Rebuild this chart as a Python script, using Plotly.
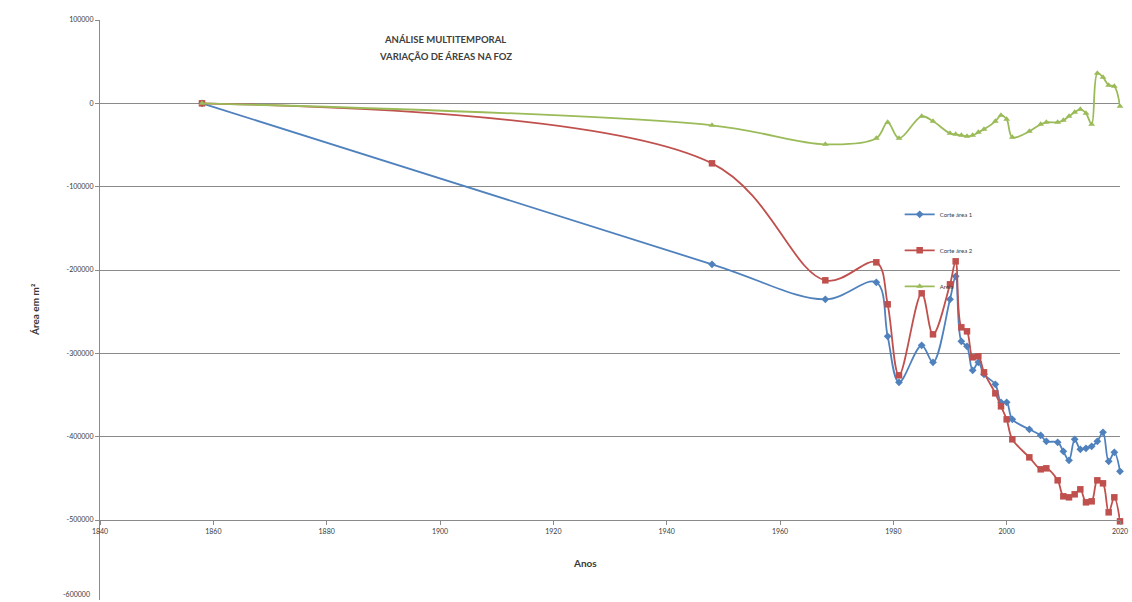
import plotly.graph_objects as go

# Anos das observações (carta histórica, fotos aéreas e imagens de satélite)
anos = [1858, 1948, 1968, 1977, 1979, 1981, 1985, 1987, 1990, 1991, 1992, 1993,
        1994, 1995, 1996, 1998, 1999, 2000, 2001, 2004, 2006, 2007, 2009, 2010,
        2011, 2012, 2013, 2014, 2015, 2016, 2017, 2018, 2019, 2020]

# Variação de área (m²) em relação à primeira observação
corte_area_1 = [0, -193200, -235200, -214800, -279600, -334800, -290400, -310800,
                -235200, -207600, -285600, -291600, -320400, -310800, -325200,
                -337200, -358800, -358800, -379200, -391200, -398400, -405600,
                -406800, -417600, -428400, -403200, -415200, -414000, -411600,
                -405600, -394800, -429600, -418800, -441600]
corte_area_2 = [0, -72000, -212400, -190800, -241200, -326400, -228000, -277200,
                -217200, -189600, -268800, -273600, -304800, -303600, -322800,
                -348000, -363600, -379200, -403200, -424800, -439200, -438000,
                -452400, -471600, -472800, -469200, -463200, -478800, -477600,
                -452400, -456000, -490800, -472800, -501600]
areia = [0, -26400, -49200, -42000, -22800, -42000, -15600, -21600, -36000,
         -37200, -38400, -39600, -38400, -34800, -31200, -21600, -14400, -19200,
         -40800, -33600, -25200, -22800, -22800, -20400, -15600, -10800, -7200,
         -12000, -25200, 36000, 31200, 21600, 20400, -3600]

series_nomes = ["Corte área 1", "Corte área 2", "Areia"]

x_ticks = [1840, 1860, 1880, 1900, 1920, 1940, 1960, 1980, 2000, 2020]
y_ticks = [100000, 0, -100000, -200000, -300000, -400000, -500000]
y_tick_labels = ["100000", "0", "-100000", "-200000", "-300000", "-400000", "-500000"]
y_label_base = "-600000"

titulo = ["ANÁLISE MULTITEMPORAL", "VARIAÇÃO DE ÁREAS NA FOZ"]

GRID = "#8a8a8a"
TXT = "#3a3a3a"
FONT = "Lato, 'Open Sans', sans-serif"

estilos = [
    dict(color="#4F81BD", symbol="diamond", size=6),
    dict(color="#C0504D", symbol="square", size=6.5),
    dict(color="#9BBB59", symbol="triangle-up", size=6),
]

fig = go.Figure()
for i, (nome, valores, est) in enumerate(zip(series_nomes,
                                             [corte_area_1, corte_area_2, areia],
                                             estilos)):
    fig.add_trace(go.Scatter(
        x=anos, y=valores, name=nome, mode="lines+markers",
        line=dict(color=est["color"], width=1.8, shape="spline", smoothing=1.0),
        marker=dict(color=est["color"], symbol=est["symbol"], size=est["size"],
                    line=dict(width=0)),
        cliponaxis=False, legendgroup=f"g{i}",
    ))

y_min, y_max = -596000, 100000
# posição (fração do papel) onde o eixo horizontal cruza em -500000
cruz = (-500000 - y_min) / (y_max - y_min)

fig.update_layout(
    width=1132, height=602,
    margin=dict(l=100, r=12, t=20, b=2),
    paper_bgcolor="white", plot_bgcolor="white",
    font=dict(family=FONT, color=TXT),
    xaxis=dict(
        range=[1840, 2020], tickvals=x_ticks, ticktext=[str(t) for t in x_ticks],
        anchor="free", position=cruz, showgrid=False, zeroline=False,
        showline=True, linecolor=GRID, linewidth=1.2,
        ticks="outside", ticklen=4, tickcolor=GRID,
        tickfont=dict(size=7, color=TXT, family=FONT),
    ),
    yaxis=dict(
        range=[y_min, y_max], tickvals=y_ticks, ticktext=y_tick_labels,
        showgrid=True, gridcolor=GRID, gridwidth=1.2, zeroline=False,
        showline=True, linecolor=GRID, linewidth=1.2,
        ticks="outside", ticklen=4, tickcolor=GRID,
        tickfont=dict(size=7, color=TXT, family=FONT),
    ),
    legend=dict(
        x=0.784, y=0.69, xanchor="left", yanchor="top",
        bgcolor="rgba(0,0,0,0)", font=dict(size=6, color=TXT, family=FONT),
        tracegroupgap=17, itemwidth=30,
    ),
    showlegend=True,
)

anot = [
    dict(text=f"<b>{titulo[0]}</b>", x=445, y=40),
    dict(text=f"<b>{titulo[1]}</b>", x=445, y=57),
]
for a in anot:
    fig.add_annotation(
        text=a["text"], xref="paper", yref="paper",
        x=(a["x"] - 100) / 1020, y=(600 - a["y"]) / 580,
        showarrow=False, xanchor="center", yanchor="middle",
        font=dict(size=9.5, color="#404040", family=FONT),
    )

fig.add_annotation(text="<b>Área em m²</b>", xref="paper", yref="paper",
                   x=(35 - 100) / 1020, y=(600 - 310) / 580, textangle=-90,
                   showarrow=False, xanchor="center", yanchor="middle",
                   font=dict(size=10, color=TXT, family=FONT))
fig.add_annotation(text="<b>Anos</b>", xref="paper", yref="paper",
                   x=(585 - 100) / 1020, y=(600 - 563) / 580,
                   showarrow=False, xanchor="center", yanchor="middle",
                   font=dict(size=10, color=TXT, family=FONT))
# rótulo do limite inferior do eixo vertical, junto à borda da figura
fig.add_annotation(text=y_label_base, xref="paper", yref="paper",
                   x=0, y=0, xshift=-8, showarrow=False,
                   xanchor="right", yanchor="bottom",
                   font=dict(size=7, color=TXT, family=FONT))

fig.write_html("out.html")
